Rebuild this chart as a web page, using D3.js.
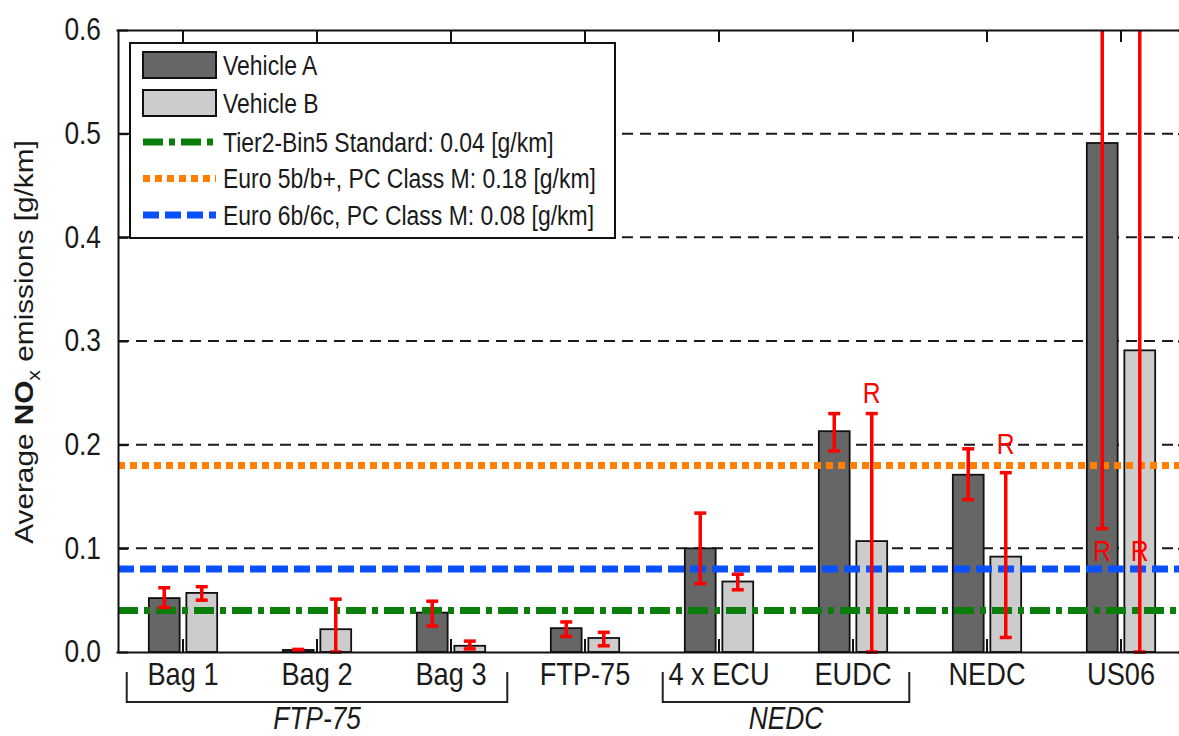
<!DOCTYPE html>
<html>
<head>
<meta charset="utf-8">
<script src="https://cdn.jsdelivr.net/npm/d3@7"></script>
<style>
	body { margin: 0; background: #fff; }
	svg { display: block; font-family: 'Liberation Sans', Arial, sans-serif; }
</style>
</head>
<body>
<svg id="chart" width="1179" height="736"></svg>
<script>
const categories = ['Bag 1', 'Bag 2', 'Bag 3', 'FTP-75', '4 x ECU', 'EUDC', 'NEDC', 'US06'];
const vehicleA = [0.052, 0.002, 0.038, 0.023, 0.100, 0.213, 0.171, 0.491];
const vehicleB = [0.057, 0.022, 0.006, 0.0135, 0.068, 0.107, 0.092, 0.291];
// error ranges [low, high]
const errA = [[0.043, 0.062], [0.0005, 0.0025], [0.025, 0.049], [0.015, 0.029], [0.066, 0.134], [0.194, 0.230], [0.147, 0.196], [0.119, 0.9]];
const errB = [[0.050, 0.063], [0.0, 0.051], [0.003, 0.0105], [0.006, 0.019], [0.060, 0.075], [0.0, 0.230], [0.014, 0.173], [0.0, 0.9]];
const yTicks = [0, 0.1, 0.2, 0.3, 0.4, 0.5, 0.6];

const limitNames = ['Tier2-Bin5 Standard: 0.04 [g/km]', 'Euro 5b/b+, PC Class M: 0.18 [g/km]', 'Euro 6b/6c, PC Class M: 0.08 [g/km]'];
const limitValues = [0.04, 0.18, 0.08];
const limitColors = ['#0a7d0a', '#ff8000', '#0a50ff'];
const limitDashes = ['20 6 6 6', '7 5', '16 6'];

// range markers: [category, vehicle, y position]
const rMarks = [['EUDC', 'B', 0.25], ['NEDC', 'B', 0.201], ['US06', 'A', 0.098], ['US06', 'B', 0.098]];

const cycleGroups = [['FTP-75', 'Bag 1', 'Bag 3'], ['NEDC', '4 x ECU', 'EUDC']];

const svg = d3.select('#chart');
const pLeft = 118, pTop = 30, pBottom = 652, pRight = 1188;
const squeeze = 0.85; // the source text is tall and narrow

const narrow = (sel, origin) => sel
	.style('transform-box', 'fill-box')
	.style('transform-origin', origin)
	.style('transform', `scaleX(${squeeze})`);

const x = d3.scaleBand(categories, [116, pRight]);
const y = d3.scaleLinear([0, 0.6], [pBottom, pTop]);
const bw = x.bandwidth();
const offset = { A: -0.14 * bw, B: 0.14 * bw };
const barW = 0.23 * bw;
const cx = (c, s) => x(c) + bw / 2 + offset[s];

svg.append('defs').append('clipPath').attr('id', 'plot')
	.append('rect').attr('x', pLeft).attr('y', pTop).attr('width', pRight - pLeft).attr('height', pBottom - pTop + 8);

// grid
svg.append('g').selectAll('line').data(yTicks.filter(d => d > 0 && d < 0.6)).join('line')
	.attr('x1', pLeft).attr('x2', pRight)
	.attr('y1', d => y(d)).attr('y2', d => y(d))
	.attr('stroke', '#1a1a1a').attr('stroke-width', 2).attr('stroke-dasharray', '11 7');

// bars
const series = [
	{ key: 'A', values: vehicleA, err: errA, fill: '#666666' },
	{ key: 'B', values: vehicleB, err: errB, fill: '#cccccc' }
];
const bars = svg.append('g');
series.forEach(s => {
	bars.append('g').selectAll('rect').data(s.values).join('rect')
		.attr('x', (d, i) => cx(categories[i], s.key) - barW / 2)
		.attr('y', d => y(d))
		.attr('width', barW)
		.attr('height', d => pBottom - y(d))
		.attr('fill', s.fill)
		.attr('stroke', '#111').attr('stroke-width', 1.8);
});

// limit lines
svg.append('g').attr('clip-path', 'url(#plot)').selectAll('line').data(limitValues).join('line')
	.attr('x1', pLeft).attr('x2', pRight)
	.attr('y1', d => y(d)).attr('y2', d => y(d))
	.attr('stroke', (d, i) => limitColors[i])
	.attr('stroke-width', 7)
	.attr('stroke-dasharray', (d, i) => limitDashes[i]);

// error bars
const errG = svg.append('g').attr('clip-path', 'url(#plot)')
	.attr('stroke', '#ff0000').attr('stroke-width', 3.5);
series.forEach(s => {
	const g = errG.append('g').selectAll('g').data(s.err).join('g')
		.attr('transform', (d, i) => `translate(${cx(categories[i], s.key)},0)`);
	g.append('line').attr('x1', 0).attr('x2', 0).attr('y1', d => y(d[0])).attr('y2', d => y(d[1]));
	g.append('line').attr('x1', -6).attr('x2', 6).attr('y1', d => y(d[0])).attr('y2', d => y(d[0]));
	g.append('line').attr('x1', -6).attr('x2', 6).attr('y1', d => y(d[1])).attr('y2', d => y(d[1]));
});

svg.append('g').selectAll('text').data(rMarks).join('text')
	.attr('x', d => cx(d[0], d[1]))
	.attr('y', d => y(d[2]))
	.attr('dy', '0.36em')
	.attr('text-anchor', 'middle')
	.attr('fill', '#ff0000')
	.attr('font-size', 29)
	.text('R')
	.call(narrow, '50% 50%');

// axes
const styleAxis = g => {
	g.select('.domain').attr('stroke', '#111').attr('stroke-width', 2);
	g.selectAll('.tick line').attr('stroke', '#111').attr('stroke-width', 2);
	g.selectAll('.tick text').attr('fill', '#1a1a1a').attr('font-size', 31).attr('font-family', 'Liberation Sans, Arial, sans-serif');
};
svg.append('g').attr('transform', `translate(${pLeft},0)`)
	.call(d3.axisLeft(y).tickValues(yTicks).tickFormat(d3.format('.1f')).tickSizeInner(-10).tickSizeOuter(0).tickPadding(17))
	.call(styleAxis)
	.call(g => g.selectAll('.tick text').call(narrow, '100% 50%'));
svg.append('g').attr('transform', `translate(${pRight},0)`)
	.call(d3.axisRight(y).tickValues(yTicks).tickFormat('').tickSizeInner(-10).tickSizeOuter(0))
	.call(styleAxis);
svg.append('g').attr('transform', `translate(0,${pBottom})`)
	.call(d3.axisBottom(x).tickSizeInner(-13).tickSizeOuter(0).tickPadding(10))
	.call(styleAxis)
	.call(g => g.selectAll('.tick text').attr('font-size', 32).call(narrow, '50% 50%'));
svg.append('g').attr('transform', `translate(0,${pTop})`)
	.call(d3.axisTop(x).tickFormat('').tickSizeInner(-12).tickSizeOuter(0))
	.call(styleAxis);

// cycle brackets
const br = svg.append('g').selectAll('g').data(cycleGroups).join('g');
const bx0 = d => x(d[1]) + bw / 2 - 0.42 * bw;
const bx1 = d => x(d[2]) + bw / 2 + 0.42 * bw;
br.append('path')
	.attr('d', d => `M${bx0(d)},672V702H${bx1(d)}V672`)
	.attr('fill', 'none').attr('stroke', '#222').attr('stroke-width', 2);
br.append('text')
	.attr('x', d => (bx0(d) + bx1(d)) / 2).attr('y', 729)
	.attr('text-anchor', 'middle').attr('font-size', 31).attr('font-style', 'italic').attr('fill', '#1a1a1a')
	.text(d => d[0])
	.call(narrow, '50% 50%');

// y label, stretched along its length like the source
const yl = svg.append('g')
	.attr('transform', `translate(24,342) rotate(-90)`)
	.append('text')
	.attr('transform', 'scale(1.19,1)')
	.attr('text-anchor', 'middle').attr('dy', '0.35em')
	.attr('font-size', 25).attr('fill', '#1a1a1a');
yl.append('tspan').text('Average ');
yl.append('tspan').attr('font-weight', 'bold').text('NO');
yl.append('tspan').attr('font-size', 18).attr('dy', 7).text('x');
yl.append('tspan').attr('dy', -7).text(' emissions [g/km]');

// legend
const lg = svg.append('g').attr('transform', 'translate(130,43)');
lg.append('rect').attr('width', 485).attr('height', 195)
	.attr('fill', '#fff').attr('stroke', '#111').attr('stroke-width', 2);
const patchNames = ['Vehicle A', 'Vehicle B'];
const pe = lg.selectAll('g.patch').data(series).join('g').attr('class', 'patch')
	.attr('transform', (d, i) => `translate(13,${9 + i * 38})`);
pe.append('rect').attr('width', 73).attr('height', 26)
	.attr('fill', d => d.fill).attr('stroke', '#111').attr('stroke-width', 2);
pe.append('text').attr('x', 80).attr('y', 13).attr('dy', '0.36em')
	.attr('font-size', 27).attr('fill', '#1a1a1a').text((d, i) => patchNames[i])
	.call(narrow, '0% 50%');
const le = lg.selectAll('g.lim').data(limitNames).join('g').attr('class', 'lim')
	.attr('transform', (d, i) => `translate(13,${99 + i * 36.5})`);
le.append('line').attr('x1', 0).attr('x2', 73)
	.attr('stroke', (d, i) => limitColors[i]).attr('stroke-width', 7)
	.attr('stroke-dasharray', (d, i) => limitDashes[i]);
le.append('text').attr('x', 80).attr('dy', '0.36em')
	.attr('font-size', 27).attr('fill', '#1a1a1a').text(d => d)
	.call(narrow, '0% 50%');
</script>
</body>
</html>
